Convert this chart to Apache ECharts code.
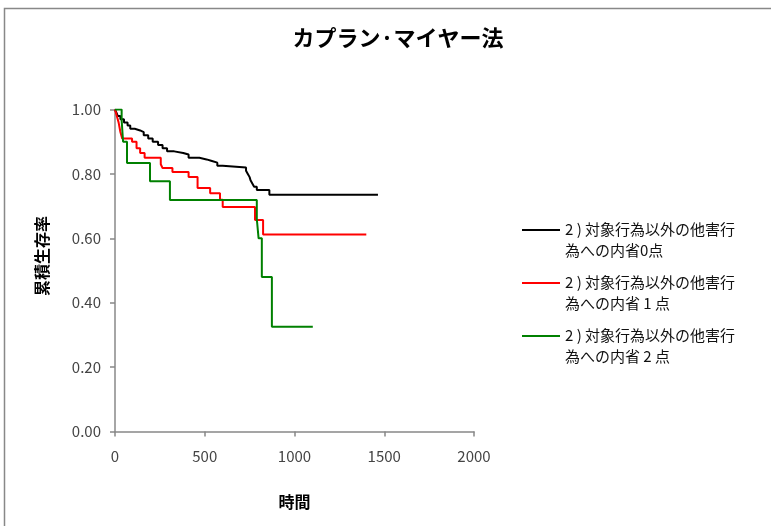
<!DOCTYPE html>
<html><head><meta charset="utf-8">
<script src="https://cdn.jsdelivr.net/npm/echarts@6/dist/echarts.min.js"></script>
<style>html,body{margin:0;padding:0;background:#fff}#c{width:771px;height:526px}</style>
</head><body><div id="c"></div>
<script>
const title = 'カプラン·マイヤー法';
const xName = '時間';
const yName = '累積生存率';
const xTicks = [0, 500, 1000, 1500, 2000];
const yTicks = [0, 0.2, 0.4, 0.6, 0.8, 1.0];
const seriesNames = ['2 ) 対象行為以外の他害行\n為への内省0点', '2 ) 対象行為以外の他害行\n為への内省 1 点', '2 ) 対象行為以外の他害行\n為への内省 2 点'];
const seriesColors = ['#000000', '#ff0000', '#008000'];

const t0 = [0, 8, 15, 30, 50, 70, 85, 110, 140, 160, 185, 210, 240, 265, 290, 330, 380, 410, 470, 510, 540, 570, 600, 730, 740, 750, 755, 765, 775, 790, 860, 1465];
const s0 = [1.0, 0.99, 0.98, 0.97, 0.96, 0.95, 0.94, 0.935, 0.93, 0.92, 0.91, 0.90, 0.89, 0.88, 0.87, 0.865, 0.86, 0.85, 0.845, 0.84, 0.835, 0.825, 0.82, 0.81, 0.80, 0.79, 0.78, 0.77, 0.76, 0.75, 0.735, 0.735];

const t1 = [0, 10, 20, 30, 40, 95, 120, 140, 165, 255, 265, 320, 410, 460, 530, 585, 600, 780, 825, 1400];
const s1 = [1.0, 0.98, 0.96, 0.93, 0.91, 0.90, 0.88, 0.865, 0.85, 0.83, 0.818, 0.806, 0.79, 0.756, 0.74, 0.72, 0.697, 0.657, 0.612, 0.612];

const t2 = [0, 37, 45, 67, 195, 306, 790, 800, 818, 874, 1102];
const s2 = [1.0, 0.967, 0.90, 0.834, 0.777, 0.719, 0.66, 0.60, 0.48, 0.325, 0.325];

const times = [t0, t1, t2];
const surv = [s0, s1, s2];

const FONT = '"Noto Sans CJK JP", "Noto Sans", sans-serif';
const chart = echarts.init(document.getElementById('c'), null, {renderer: 'canvas'});

const series = seriesNames.map((n, i) => ({
  name: n, type: 'line', step: 'end', showSymbol: false, symbol: 'none',
  data: times[i].map((t, k) => [t, surv[i][k]]),
  lineStyle: {color: seriesColors[i], width: 2},
  itemStyle: {color: seriesColors[i]},
  animation: false
}));

const legendGraphics = [];
seriesNames.forEach((n, i) => {
  const y = 230 + i * 53;
  legendGraphics.push({type: 'line', shape: {x1: 522, y1: y, x2: 560, y2: y}, style: {stroke: seriesColors[i], lineWidth: 2}});
  legendGraphics.push({type: 'text', x: 565, y: y - 11, style: {text: n, font: '15px ' + FONT, fill: '#111', lineHeight: 21, textVerticalAlign: 'top'}});
});

chart.setOption({
  animation: false,
  title: {text: title, left: 393, top: 22, textAlign: 'center', textStyle: {fontSize: 22, fontWeight: 'bold', color: '#000', fontFamily: FONT}},
  grid: {left: 115, right: 297, top: 109.5, bottom: 94.5, containLabel: false},
  xAxis: {type: 'value', min: xTicks[0], max: xTicks[xTicks.length - 1], interval: 500,
    name: xName, nameLocation: 'middle', nameGap: 62,
    nameTextStyle: {fontSize: 16, fontWeight: 'bold', color: '#000', fontFamily: FONT},
    axisLine: {lineStyle: {color: '#888', width: 1.5}},
    axisTick: {show: true, length: 5, lineStyle: {color: '#888', width: 1.5}},
    axisLabel: {fontSize: 15, color: '#444', margin: 17, fontFamily: FONT, formatter: v => String(v)},
    splitLine: {show: false}},
  yAxis: {type: 'value', min: yTicks[0], max: yTicks[yTicks.length - 1], interval: 0.2,
    axisLine: {show: true, lineStyle: {color: '#888', width: 1.5}},
    axisTick: {show: true, length: 5, lineStyle: {color: '#888', width: 1.5}},
    axisLabel: {fontSize: 15, color: '#444', margin: 14, fontFamily: FONT, formatter: v => v.toFixed(2)},
    splitLine: {show: false}},
  graphic: [
    {type: 'rect', shape: {x: 4.5, y: 8.5, width: 900, height: 700}, style: {fill: 'none', stroke: '#888', lineWidth: 1.5}, silent: true, z: -1},
    {type: 'text', x: 42, y: 256, rotation: Math.PI / 2, style: {text: yName, font: 'bold 16px ' + FONT, fill: '#000', textAlign: 'center', textVerticalAlign: 'middle'}},
    ...legendGraphics
  ],
  series: series
});
</script></body></html>
